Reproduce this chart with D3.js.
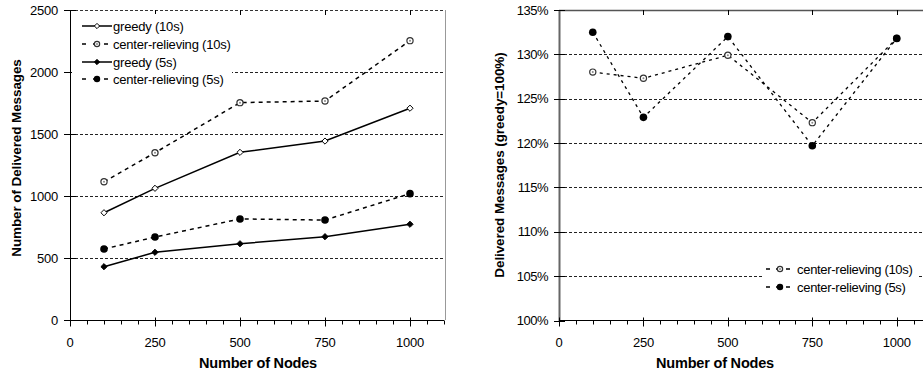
<!DOCTYPE html>
<html><head><meta charset="utf-8">
<script src="https://cdn.jsdelivr.net/npm/d3@7"></script>
<style>
body{margin:0;background:#fff;}
text{font-family:"Liberation Sans",Arial,sans-serif;fill:#000;}
</style></head>
<body>
<svg id="c" width="923" height="375"></svg>
<script>
const nodes = [100, 250, 500, 750, 1000];
const greedy10 = [865, 1062, 1352, 1443, 1708];
const center10 = [1115, 1349, 1753, 1766, 2253];
const greedy5 = [430, 546, 615, 672, 772];
const center5 = [573, 669, 815, 806, 1019];
const ratio10 = [128.0, 127.3, 129.9, 122.3, 131.8];
const ratio5 = [132.5, 122.9, 132.0, 119.7, 131.8];
const xTicks = [0, 250, 500, 750, 1000];
const leftYTicks = [0, 500, 1000, 1500, 2000, 2500];
const rightYTicks = [100, 105, 110, 115, 120, 125, 130, 135];
const leftLegend = ["greedy (10s)", "center-relieving (10s)", "greedy (5s)", "center-relieving (5s)"];
const rightLegend = ["center-relieving (10s)", "center-relieving (5s)"];

const svg = d3.select("#c");
const FS = 13;

function marker(g, type, x, y, k) {
  k = k || 1;
  if (type === "odiamond" || type === "fdiamond") {
    const s = 3.1 * k;
    g.append("path").attr("d", `M${x},${y-s}L${x+s},${y}L${x},${y+s}L${x-s},${y}Z`)
      .attr("fill", type === "odiamond" ? "#fff" : "#000")
      .attr("stroke", "#000").attr("stroke-width", 1);
  } else if (type === "ocircle") {
    g.append("circle").attr("cx", x).attr("cy", y).attr("r", 3.1 * k)
      .attr("fill", "#fff").attr("stroke", "#333").attr("stroke-width", 1.2);
    g.append("circle").attr("cx", x).attr("cy", y).attr("r", 1.0).attr("fill", "#888");
  } else {
    g.append("circle").attr("cx", x).attr("cy", y).attr("r", 3.8 * k).attr("fill", "#000");
  }
}

function xAxisDraw(g, x, y0, withTop, yTop) {
  g.append("line").attr("x1", x.range()[0]).attr("x2", x.range()[1]).attr("y1", y0).attr("y2", y0)
    .attr("stroke", "#000").attr("stroke-width", 1);
  const minor = d3.range(0, 1101, 50);
  minor.forEach(v => {
    const major = v % 250 === 0;
    const px = Math.round(x(v)) + 0.5;
    if (px > 923) return;
    g.append("line").attr("x1", px).attr("x2", px)
      .attr("y1", major ? y0 - 3 : y0).attr("y2", major ? y0 + 6 : y0 + 4)
      .attr("stroke", "#000").attr("stroke-width", 1);
    if (withTop && major && v > 0) {
      g.append("line").attr("x1", px).attr("x2", px).attr("y1", yTop).attr("y2", yTop + 5)
        .attr("stroke", "#000").attr("stroke-width", 1);
    }
  });
  xTicks.forEach(v => {
    g.append("text").attr("x", x(v)).attr("y", 342).attr("dy", "0.35em")
      .attr("text-anchor", "middle").attr("font-size", FS).attr("letter-spacing", -0.2).text(v);
  });
}

// ---------- Left chart ----------
{
  const x = d3.scaleLinear().domain([0, 1100]).range([70, 444]);
  const y = d3.scaleLinear().domain([0, 2500]).range([320, 10]);
  const g = svg.append("g");
  leftYTicks.filter(v => v > 0).forEach(v => {
    g.append("line").attr("x1", 70).attr("x2", 445).attr("y1", Math.round(y(v)) + 0.5).attr("y2", Math.round(y(v)) + 0.5)
      .attr("stroke", v === 2500 ? "#333" : "#222").attr("stroke-width", 1).attr("stroke-dasharray", "3,2");
  });
  g.append("line").attr("x1", 445.5).attr("x2", 445.5).attr("y1", 10).attr("y2", 320).attr("stroke", "#999");
  g.append("line").attr("x1", 70.5).attr("x2", 70.5).attr("y1", 10).attr("y2", 320).attr("stroke", "#000");
  leftYTicks.forEach(v => {
    const py = Math.round(y(v)) + 0.5;
    g.append("line").attr("x1", 64).attr("x2", 76).attr("y1", py).attr("y2", py).attr("stroke", "#000");
    g.append("text").attr("x", 58).attr("y", y(v)).attr("dy", "0.35em").attr("text-anchor", "end")
      .attr("font-size", FS).attr("letter-spacing", -0.2).text(v);
  });
  xAxisDraw(g, x, 320.5, true, 10);

  g.append("rect").attr("x", 72).attr("y", 14).attr("width", 160).attr("height", 74).attr("fill", "#fff");

  const series = [
    {vals: greedy10, dash: null, m: "odiamond"},
    {vals: center10, dash: "4,4", m: "ocircle"},
    {vals: greedy5, dash: null, m: "fdiamond"},
    {vals: center5, dash: "4,4", m: "fcircle"}
  ];
  const line = d3.line().x((d, i) => x(nodes[i])).y(d => y(d));
  series.forEach(s => {
    g.append("path").attr("d", line(s.vals)).attr("fill", "none").attr("stroke", "#000")
      .attr("stroke-width", 1.5).attr("stroke-dasharray", s.dash);
    s.vals.forEach((v, i) => marker(g, s.m, x(nodes[i]), y(v)));
  });
  const ly = [26, 44, 62, 79];
  series.forEach((s, i) => {
    g.append("line").attr("x1", 82).attr("x2", 112).attr("y1", ly[i]).attr("y2", ly[i])
      .attr("stroke", "#000").attr("stroke-width", 1.5).attr("stroke-dasharray", s.dash ? "4,7" : null);
    marker(g, s.m, 97, ly[i], 0.85);
    g.append("text").attr("x", 113).attr("y", ly[i]).attr("dy", "0.35em").attr("font-size", FS)
      .attr("letter-spacing", -0.2).text(leftLegend[i]);
  });
  g.append("text").attr("x", 258).attr("y", 363).attr("dy", "0.35em").attr("text-anchor", "middle")
    .attr("font-size", 14.5).attr("font-weight", "bold").attr("letter-spacing", -0.2).text("Number of Nodes");
  g.append("text").attr("transform", "translate(16,158) rotate(-90)").attr("dy", "0.35em")
    .attr("text-anchor", "middle").attr("font-size", 13.5).attr("font-weight", "bold").attr("letter-spacing", -0.1)
    .text("Number of Delivered Messages");
}

// ---------- Right chart ----------
{
  const x = d3.scaleLinear().domain([0, 1100]).range([559, 930.5]);
  const y = d3.scaleLinear().domain([100, 135]).range([320.5, 10]);
  const g = svg.append("g");
  rightYTicks.filter(v => v > 100).forEach(v => {
    const py = Math.round(y(v)) + 0.5;
    g.append("line").attr("x1", 559).attr("x2", 923).attr("y1", py).attr("y2", py)
      .attr("stroke", v === 135 ? "#555" : "#222").attr("stroke-width", v === 135 ? 1.5 : 1)
      .attr("stroke-dasharray", v === 135 ? null : "3,2");
  });
  g.append("line").attr("x1", 559.5).attr("x2", 559.5).attr("y1", 10).attr("y2", 321).attr("stroke", "#666").attr("stroke-width", 2);
  rightYTicks.forEach(v => {
    const py = Math.round(y(v)) + 0.5;
    g.append("line").attr("x1", 554).attr("x2", 565).attr("y1", py).attr("y2", py).attr("stroke", "#000");
    g.append("text").attr("x", 548).attr("y", y(v)).attr("dy", "0.35em").attr("text-anchor", "end")
      .attr("font-size", FS).attr("letter-spacing", -0.5).text(v + "%");
  });
  xAxisDraw(g, x, 320.5, true, 10);

  g.append("rect").attr("x", 762).attr("y", 261).attr("width", 157).attr("height", 34).attr("fill", "#fff");

  const series = [
    {vals: ratio10, m: "ocircle"},
    {vals: ratio5, m: "fcircle"}
  ];
  const line = d3.line().x((d, i) => x(nodes[i])).y(d => y(d));
  series.forEach(s => {
    g.append("path").attr("d", line(s.vals)).attr("fill", "none").attr("stroke", "#000")
      .attr("stroke-width", 1.3).attr("stroke-dasharray", "3,4");
    s.vals.forEach((v, i) => marker(g, s.m, x(nodes[i]), y(v)));
  });
  const ly = [269, 287];
  series.forEach((s, i) => {
    g.append("line").attr("x1", 766).attr("x2", 794).attr("y1", ly[i]).attr("y2", ly[i])
      .attr("stroke", "#000").attr("stroke-width", 1.5).attr("stroke-dasharray", "4,6");
    marker(g, s.m, 780, ly[i], 0.85);
    g.append("text").attr("x", 797).attr("y", ly[i]).attr("dy", "0.35em").attr("font-size", FS)
      .attr("letter-spacing", -0.3).text(rightLegend[i]);
  });
  g.append("text").attr("x", 715).attr("y", 363).attr("dy", "0.35em").attr("text-anchor", "middle")
    .attr("font-size", 14.5).attr("font-weight", "bold").attr("letter-spacing", -0.2).text("Number of Nodes");
  g.append("text").attr("transform", "translate(499,165) rotate(-90)").attr("dy", "0.35em")
    .attr("text-anchor", "middle").attr("font-size", 13.5).attr("font-weight", "bold").attr("letter-spacing", -0.1)
    .text("Delivered Messages (greedy=100%)");
}
</script>
</body></html>
